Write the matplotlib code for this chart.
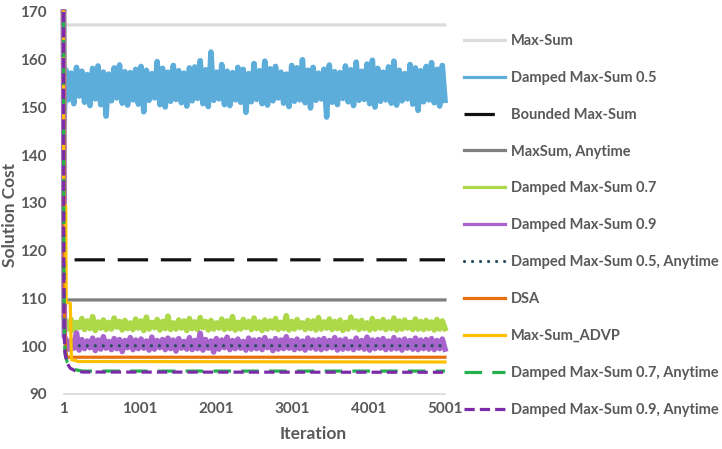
import numpy as np
import matplotlib
matplotlib.use('Agg')
import matplotlib.pyplot as plt

plt.rcParams['font.family'] = ['Lato', 'DejaVu Sans']

# flat / converging series: (iteration, cost) points
max_sum_it = [1, 2, 5001]
max_sum = [170, 167.3, 167.3]

bounded_it = [1, 3, 5001]
bounded = [170, 118.1, 118.1]

anytime_it = [1, 6, 12, 5001]
anytime = [170, 112, 109.7, 109.7]

d05_any_it = [1, 8, 25, 60, 100, 5001]
d05_any = [170, 105, 101.2, 100.4, 100.1, 100.1]

dsa_it = [1, 15, 30, 50, 5001]
dsa = [170, 104, 99.0, 97.7, 97.7]

advp_it = [1, 3, 30, 36, 90, 105, 200, 5001]
advp = [170, 129.5, 129.5, 109.2, 109.0, 97.2, 96.8, 96.7]

d07_any_it = [1, 5, 10, 15, 22, 50, 90, 150, 250, 5001]
d07_any = [170, 120, 105, 100.5, 98.6, 96.6, 95.6, 95.1, 94.8, 94.8]

d09_any_it = [1, 5, 10, 15, 22, 50, 90, 150, 250, 5001]
d09_any = [170, 119, 104.5, 100.2, 98.3, 96.4, 95.4, 94.9, 94.6, 94.55]

# noisy series: start transient + oscillating values over the run
d05_start = [170, 146.5, 152.0]
d05_noise = [
    157.9, 151.6, 157.2, 150.8, 158.4, 152.4, 157.6, 151.1, 156.9, 150.4,
    158.2, 151.8, 158.7, 150.6, 157.4, 148.2, 157.0, 151.4, 158.3, 152.0,
    158.9, 150.9, 157.5, 150.5, 157.3, 151.6, 158.0, 150.7, 158.6, 149.1,
    157.8, 151.5, 157.1, 152.0, 159.6, 150.6, 158.2, 150.1, 157.4, 151.3,
    158.8, 151.7, 157.7, 151.0, 157.2, 150.3, 158.3, 151.4, 158.5, 151.9,
    159.8, 150.8, 157.9, 150.2, 161.6, 151.5, 157.4, 151.8, 159.0, 150.6,
    157.6, 150.4, 157.3, 151.6, 158.4, 151.1, 158.0, 149.0, 157.1, 151.2,
    159.2, 151.7, 157.7, 150.8, 159.7, 150.5, 158.1, 151.4, 158.6, 152.0,
    157.4, 150.9, 157.0, 150.2, 158.8, 151.3, 158.3, 151.6, 160.0, 151.0,
    157.8, 149.9, 158.4, 151.5, 157.2, 151.8, 158.0, 148.0, 158.9, 151.1,
    157.5, 150.6, 157.3, 151.9, 158.7, 151.2, 157.9, 150.4, 159.5, 151.5,
    157.6, 151.7, 159.1, 150.8, 159.9, 150.1, 158.2, 151.3, 157.4, 151.6,
    158.5, 150.9, 159.7, 150.5, 157.8, 151.4, 157.1, 151.8, 159.0, 150.7,
    158.3, 149.4, 157.7, 151.2, 158.6, 151.6, 159.4, 151.0, 158.0, 150.3,
    158.8, 151.5,
]

d07_start = [170, 105.5]
d07_noise = [
    105.3, 103.6, 105.6, 103.4, 105.0, 103.9, 105.8, 103.5, 105.3, 103.7,
    106.2, 103.3, 105.1, 103.8, 105.5, 103.5, 105.0, 103.6, 105.9, 104.0,
    105.2, 103.4, 105.4, 103.7, 104.9, 103.5, 105.7, 103.8, 105.3, 103.3,
    106.1, 103.6, 105.0, 103.9, 105.6, 103.4, 105.2, 103.7, 106.3, 103.5,
    104.9, 103.6, 105.5, 103.8, 105.3, 103.3, 105.8, 103.7, 105.1, 103.5,
    106.0, 103.9, 105.2, 103.4, 105.4, 103.6, 104.9, 103.8, 105.7, 103.5,
    105.3, 103.7, 106.2, 103.4, 105.0, 103.6, 105.6, 103.9, 105.2, 103.5,
    105.9, 103.7, 105.1, 103.3, 105.5, 103.6, 105.3, 103.8, 105.8, 103.5,
    105.0, 103.7, 106.4, 103.4, 105.2, 103.6, 105.6, 103.9, 104.9, 103.5,
    105.4, 103.7, 105.3, 103.4, 106.0, 103.6, 105.1, 103.8, 105.7, 103.5,
    105.2, 103.7, 105.5, 103.3, 105.0, 103.6, 106.1, 103.9, 105.3, 103.5,
    105.4, 103.7, 104.9, 103.4, 105.8, 103.6, 105.2, 103.8, 105.6, 103.5,
    105.1, 103.7, 105.9, 103.4, 105.3, 103.6, 105.5, 103.8, 105.0, 103.5,
    105.7, 103.6, 105.2, 103.5, 105.4, 103.7, 105.1, 103.4, 105.6, 103.6,
    105.3, 103.7,
]

d09_start = [170, 102.0]
d09_noise = [
    101.5, 99.4, 101.2, 99.6, 102.8, 99.2, 101.4, 99.5, 101.1, 99.7,
    101.7, 99.1, 101.3, 99.4, 102.0, 99.6, 101.0, 99.3, 101.6, 99.5,
    101.4, 98.9, 101.2, 99.7, 101.8, 99.3, 101.3, 99.5, 101.5, 99.6,
    101.1, 99.2, 101.9, 99.4, 101.2, 99.7, 101.4, 99.3, 101.7, 99.5,
    101.3, 99.0, 101.6, 99.6, 101.0, 99.4, 101.8, 99.3, 101.2, 99.5,
    102.7, 99.2, 101.4, 99.6, 101.1, 98.8, 101.6, 99.4, 101.3, 99.7,
    101.9, 99.3, 101.2, 99.5, 101.5, 99.6, 101.0, 99.2, 101.7, 99.4,
    101.3, 99.5, 101.4, 99.3, 101.8, 99.7, 101.1, 99.1, 101.6, 99.4,
    101.3, 99.5, 102.0, 99.6, 101.2, 99.3, 101.5, 99.5, 101.1, 99.2,
    101.7, 99.6, 101.3, 99.4, 101.4, 99.3, 101.6, 99.5, 101.2, 99.7,
    101.8, 99.2, 101.3, 99.4, 101.5, 99.5, 101.0, 99.3, 101.7, 99.6,
    101.2, 99.4, 101.9, 99.2, 101.3, 99.5, 101.4, 99.6, 101.6, 99.3,
    101.1, 99.4, 101.8, 99.5, 101.3, 99.2, 101.5, 99.6, 101.2, 99.4,
    101.7, 99.3, 101.3, 99.5, 101.4, 99.4, 101.6, 99.3, 101.2, 99.5,
    101.5, 99.4,
]

x_ticks = [1, 1001, 2001, 3001, 4001, 5001]
y_ticks = [90, 100, 110, 120, 130, 140, 150, 160, 170]

TXT = '#595959'


def noisy(start_it, start, noise):
    it = list(start_it) + list(np.linspace(30, 5001, len(noise)))
    return it, list(start) + list(noise)


fig = plt.figure(figsize=(7.22, 4.49), dpi=100)
ax = fig.add_axes([63.5 / 722, 55 / 449, 381.5 / 722, 382 / 449])

lw = 2.3
lw_noisy = 4.0
kw = dict(lw=lw, clip_on=False, solid_joinstyle='round')

ax.plot(max_sum_it, max_sum, color='#DCDCDC', label='Max-Sum', **kw)
it, v = noisy([1, 8, 18], d05_start, d05_noise)
ax.plot(it, v, color='#5DADDB', label='Damped Max-Sum 0.5', lw=lw_noisy,
        clip_on=False)
ax.plot(bounded_it, bounded, color='#111111', dashes=(9.5, 4),
        label='Bounded Max-Sum', lw=lw, clip_on=False)
ax.plot(anytime_it, anytime, color='#7F7F7F', label='MaxSum, Anytime', **kw)
it, v = noisy([1, 12], d07_start, d07_noise)
ax.plot(it, v, color='#ADD848', label='Damped Max-Sum 0.7', lw=lw_noisy,
        clip_on=False)
it, v = noisy([1, 12], d09_start, d09_noise)
ax.plot(it, v, color='#A864CC', label='Damped Max-Sum 0.9', lw=lw_noisy,
        clip_on=False)
ax.plot(d05_any_it, d05_any, color='#264E5E', dashes=(0.01, 2.5),
        dash_capstyle='round', label='Damped Max-Sum 0.5, Anytime',
        lw=lw, clip_on=False)
ax.plot(dsa_it, dsa, color='#E8700F', label='DSA', **kw)
ax.plot(advp_it, advp, color='#FFC000', label='Max-Sum_ADVP', **kw)
ax.plot(d07_any_it, d07_any, color='#22B14C', dashes=(5.5, 3.2),
        label='Damped Max-Sum 0.7, Anytime', lw=lw, clip_on=False)
ax.plot(d09_any_it, d09_any, color='#7B2AA8', dashes=(3.2, 1.6),
        label='Damped Max-Sum 0.9, Anytime', lw=lw, clip_on=False)

ax.set_xlim(1, 5001)
ax.set_ylim(90, 170)
ax.set_xticks(x_ticks)
ax.set_yticks(y_ticks)
for s in ['top', 'right', 'left']:
    ax.spines[s].set_visible(False)
ax.spines['bottom'].set_color('#D9D9D9')
ax.spines['bottom'].set_linewidth(1.2)
ax.tick_params(length=0, labelsize=11, labelcolor=TXT)
ax.tick_params(axis='y', pad=12)
ax.tick_params(axis='x', pad=6)
for t in ax.get_xticklabels() + ax.get_yticklabels():
    t.set_fontweight('bold')

ax.set_ylabel('Solution Cost', fontsize=12.5, fontweight='bold', color=TXT)
ax.yaxis.set_label_coords(-0.118, 0.469)
ax.set_xlabel('Iteration', fontsize=12.5, fontweight='bold', color=TXT)
ax.xaxis.set_label_coords(0.654, -0.085)

leg = fig.legend(loc='upper left', bbox_to_anchor=(458 / 722, 1 - 28 / 449),
                 frameon=False, fontsize=10.5, handlelength=2.8,
                 handletextpad=0.4, labelspacing=1.57, borderaxespad=0)
for t in leg.get_texts():
    t.set_color(TXT)
    t.set_fontweight('bold')
for h in leg.legend_handles:
    h.set_linewidth(lw)

fig.savefig('out.png', dpi=100)
